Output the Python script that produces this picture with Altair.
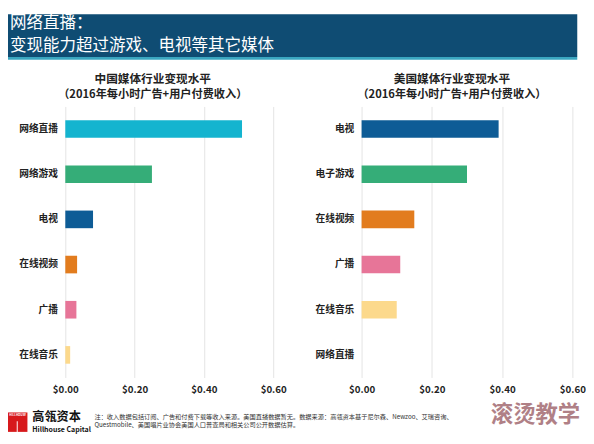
import altair as alt
import pandas as pd

# ---- data ----
china_categories = ["网络直播", "网络游戏", "电视", "在线视频", "广播", "在线音乐"]
china_values = [0.51, 0.25, 0.08, 0.034, 0.032, 0.014]
us_categories = ["电视", "电子游戏", "在线视频", "广播", "在线音乐", "网络直播"]
us_values = [0.39, 0.30, 0.15, 0.11, 0.10, 0.0]
x_ticks = [0.0, 0.2, 0.4, 0.6]

color_domain = ["网络直播", "网络游戏", "电子游戏", "电视", "在线视频", "广播", "在线音乐"]
color_range = ["#14b4cf", "#35ad78", "#35ad78", "#0e5c96", "#e27c1e", "#e77598", "#fcd98c"]

title_line1 = "网络直播："
title_line2 = "变现能力超过游戏、电视等其它媒体"
china_title = ["中国媒体行业变现水平", "（2016年每小时广告+用户付费收入）"]
us_title = ["美国媒体行业变现水平", "（2016年每小时广告+用户付费收入）"]
note_line1 = "注：收入数据包括订阅、广告和付费下载等收入来源。美国直播数据暂无。数据来源：高瓴资本基于尼尔森、Newzoo、艾瑞咨询、"
note_line2 = "Questmobile、美国唱片业协会美国人口普查局和相关公司公开数据估算。"
brand_cn = "高瓴资本"
brand_en = "Hillhouse Capital"
watermark = "滚烫教学"

FONT = "Noto Sans CJK SC"
one = pd.DataFrame({"k": [0]})

LW, RW, H = 214, 217, 279


def txt(text, x, y, size, color, weight="normal", align="left", font=FONT, opacity=1.0):
    return alt.Chart(one).mark_text(
        text=text, align=align, baseline="middle", fontSize=size,
        fontWeight=weight, color=color, font=font, opacity=opacity
    ).encode(x=alt.value(x), y=alt.value(y))


def box(x, x2, y, y2, color):
    return alt.Chart(one).mark_rect(color=color).encode(
        x=alt.value(x), x2=alt.value(x2), y=alt.value(y), y2=alt.value(y2)
    )


def bars(cats, vals):
    df = pd.DataFrame({"category": cats, "value": vals})
    return alt.Chart(df).mark_bar().encode(
        x=alt.X("value:Q",
                scale=alt.Scale(domain=[0, 0.6], nice=False),
                axis=alt.Axis(values=x_ticks, format="$.2f", title=None,
                              labelFlush=False, labelPadding=7)),
        y=alt.Y("category:N", sort=cats,
                scale=alt.Scale(paddingInner=0.61, paddingOuter=0.305),
                axis=alt.Axis(title=None, grid=False, labelPadding=8)),
        color=alt.Color("category:N",
                        scale=alt.Scale(domain=color_domain, range=color_range),
                        legend=None),
    )


left = alt.layer(
    box(-59, 527, -95, -51, "#0f4c73"),
    box(-59, 527, -51, -48, "#3aa6c0"),
    txt(title_line1, -57, -85.5, 17, "#ffffff"),
    txt(title_line2, -57, -62, 17, "#ffffff"),
    txt(china_title[0], 90, -28, 12, "#222222", weight="bold", align="center"),
    txt(china_title[1], 90, -11.5, 11.5, "#222222", weight="bold", align="center"),
    box(-59, -39, 315, 335, "#d7191c"),
    box(-50, -49, 324, 335, "#ffffff"),
    txt("HILLHOUSE", -49, 318, 3, "#ffffff", weight="bold", align="center"),
    txt(brand_cn, -34, 320, 12.5, "#111111", weight="bold"),
    txt(brand_en, -34, 333, 7.2, "#111111", weight="bold"),
    txt(note_line1, 30, 320, 6.4, "#333333"),
    txt(note_line2, 30, 328, 6.4, "#333333"),
    bars(china_categories, china_values),
).properties(width=LW, height=H)

right = alt.layer(
    bars(us_categories, us_values),
    txt(us_title[0], 93, -28, 12, "#222222", weight="bold", align="center"),
    txt(us_title[1], 93, -11.5, 11.5, "#222222", weight="bold", align="center"),
    txt(watermark, 179, 318, 23, "#a8737a", weight="bold", align="center", opacity=0.9),
).properties(width=RW, height=H)

chart = alt.hconcat(left, right, spacing=91, bounds="flush").properties(
    padding=0
).configure(font=FONT).configure_view(stroke=None).configure_axis(
    gridColor="#e3e3e3", gridWidth=1, domain=False, ticks=False,
    labelFont=FONT, labelFontSize=10, labelFontWeight="bold", labelColor="#222222"
)

chart.save("out.html", embed_options={"renderer": "svg", "actions": False})
